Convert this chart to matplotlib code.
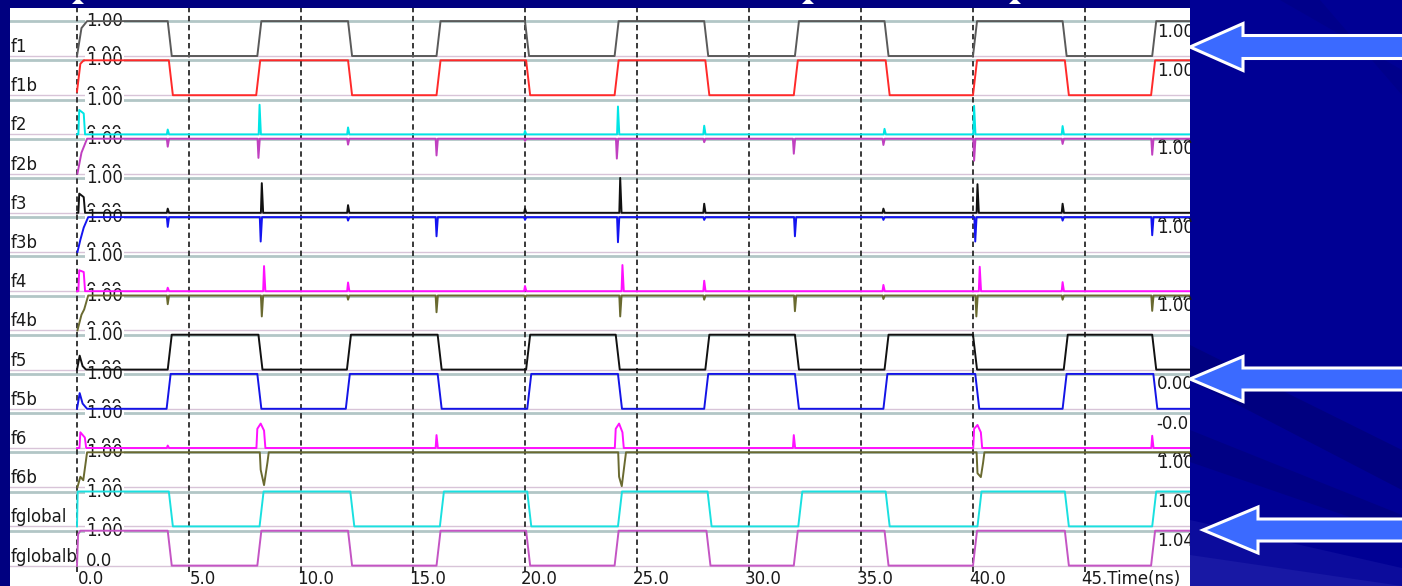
import numpy as np
import matplotlib.pyplot as plt
from matplotlib.patches import Polygon, Rectangle

plt.rcParams['font.family'] = ['DejaVu Sans']

W, H = 1402, 586
T_END = 50.0

names = ['f1', 'f1b', 'f2', 'f2b', 'f3', 'f3b', 'f4', 'f4b',
         'f5', 'f5b', 'f6', 'f6b', 'fglobal', 'fglobalb']
colors = ['#5a5a5a', '#ff2a2a', '#00e5e5', '#c040c0', '#111111', '#1414f0',
          '#ff10ff', '#6a6a30', '#111111', '#1414e6', '#ff10ff', '#6a6a30',
          '#1ae0e0', '#c455c4']
right_vals = ['1.00', '1.00', None, '1.00', None, '1.00', None, '1.00',
              None, '0.00', '-0.0', '1.00', '1.00', '1.04']
right_hidden = [3, 5, 7, 11]
time_ticks = [0, 5, 10, 15, 20, 25, 30, 35, 40, 45]
time_labels = ['0.0', '5.0', '10.0', '15.0', '20.0', '25.0', '30.0', '35.0',
               '40.0', '45.Time(ns)']

# clock type signals: start points, level after start, edge times (ns)
f1_start = [(0.0, 0.0), (0.2, 0.8), (0.45, 1.0)]
f1_edges = [4.05, 8.05, 12.1, 16.05, 20.0, 24.0, 28.0, 32.05, 36.05, 40.0, 44.0, 48.0]
f1b_start = [(0.0, 0.1), (0.15, 0.9), (0.3, 1.0)]
f1b_edges = [4.1, 8.0, 12.1, 16.05, 20.05, 24.0, 28.05, 32.0, 36.1, 40.0, 44.1, 47.95]
f5_start = [(0.0, 0.0), (0.12, 0.4), (0.25, 0.1), (0.4, 0.0)]
f5_edges = [4.05, 8.1, 12.05, 16.1, 20.05, 24.05, 28.05, 32.05, 36.05, 40.0, 44.05, 48.0]
f5b_start = [(0.0, 0.0), (0.12, 0.45), (0.25, 0.15), (0.45, 0.0)]
f5b_edges = [4.0, 8.05, 12.0, 16.1, 20.1, 24.15, 28.0, 32.05, 36.0, 40.1, 44.0, 48.05]
fg_start = [(0.0, 0.0), (0.03, 1.0)]
fg_edges = [4.1, 8.15, 12.2, 16.2, 20.1, 24.15, 28.15, 32.2, 36.1, 40.2, 44.1, 48.0]
fgb_start = [(0.0, 0.0), (0.05, 0.9), (0.15, 1.0)]
fgb_edges = [4.05, 8.05, 12.1, 16.05, 20.05, 24.0, 28.1, 32.0, 36.05, 40.0, 44.1, 47.95]

# glitch type signals: (time ns, height as lane fraction)
f2_spikes = [(0.1, 0.7), (0.3, 0.6), (4.05, 0.14), (8.15, 0.85), (12.1, 0.2),
             (20.0, 0.1), (24.15, 0.8), (28.0, 0.25), (36.05, 0.16),
             (40.05, 0.82), (44.0, 0.24)]
f2b_start = [(0.02, 0.0), (0.2, 0.6), (0.45, 1.0)]
f2b_spikes = [(4.05, -0.23), (8.1, -0.55), (12.1, -0.17), (16.05, -0.48),
              (20.0, -0.06), (24.1, -0.57), (28.0, -0.1), (32.0, -0.43),
              (36.0, -0.18), (40.05, -0.63), (44.0, -0.15), (48.0, -0.46)]
f3_spikes = [(0.1, 0.55), (0.3, 0.45), (4.05, 0.12), (8.25, 0.85), (12.1, 0.22),
             (20.0, 0.12), (24.25, 1.0), (28.0, 0.26), (36.0, 0.12),
             (40.2, 0.82), (44.0, 0.26)]
f3b_start = [(0.02, 0.0), (0.15, 0.35), (0.3, 0.7), (0.5, 1.0)]
f3b_spikes = [(4.05, -0.28), (8.2, -0.7), (12.1, -0.1), (16.05, -0.55),
              (20.0, -0.08), (24.15, -0.72), (28.0, -0.08), (32.05, -0.55),
              (36.0, -0.08), (40.1, -0.7), (44.0, -0.1), (48.0, -0.52)]
f4_spikes = [(0.1, 0.6), (0.3, 0.55), (4.05, 0.1), (8.35, 0.72), (12.1, 0.25),
             (20.0, 0.15), (24.35, 0.75), (28.0, 0.3), (36.0, 0.18),
             (40.3, 0.7), (44.0, 0.26)]
f4b_start = [(0.02, 0.0), (0.2, 0.45), (0.32, 0.6), (0.5, 1.0)]
f4b_spikes = [(4.05, -0.25), (8.25, -0.6), (12.1, -0.12), (16.05, -0.48),
              (20.0, -0.05), (24.25, -0.6), (28.0, -0.12), (32.05, -0.45),
              (36.0, -0.1), (40.15, -0.6), (44.0, -0.12), (48.0, -0.44)]
f6_spikes = [(0.15, 0.45), (0.35, 0.3), (4.05, 0.07), (8.05, 0.55), (8.2, 0.7),
             (8.35, 0.5), (16.05, 0.37), (24.05, 0.55), (24.2, 0.7), (24.35, 0.45),
             (32.0, 0.37), (40.05, 0.55), (40.2, 0.66), (40.35, 0.45), (48.0, 0.35)]
f6b_start = [(0.02, 0.0), (0.15, 0.3), (0.28, 0.2), (0.45, 1.0)]
f6b_spikes = [(8.2, -0.5), (8.35, -0.94), (8.5, -0.3), (24.2, -0.7), (24.32, -0.97),
              (24.45, -0.3), (40.2, -0.6), (40.35, -0.71), (40.45, -0.3)]


def clock(start, level, edges, ramp=0.18):
    pts = list(start)
    for e in edges:
        pts += [(e, level), (e + ramp, 1 - level)]
        level = 1 - level
    pts.append((T_END, level))
    return np.array(pts)


def spiky(start, base, spikes):
    pts = list(start)
    groups = []
    for t, h in spikes:
        if groups and t - groups[-1][-1][0] < 0.2:
            groups[-1].append((t, h))
        else:
            groups.append([(t, h)])
    for g in groups:
        pts.append((g[0][0] - 0.04, base))
        pts += [(t, base + h) for t, h in g]
        pts.append((g[-1][0] + 0.06, base))
    pts.append((T_END, base))
    return np.array(pts)


waves = [clock(f1_start, 1, f1_edges), clock(f1b_start, 1, f1b_edges),
         spiky([(0.0, 0.0)], 0, f2_spikes), spiky(f2b_start, 1, f2b_spikes),
         spiky([(0.0, 0.0)], 0, f3_spikes), spiky(f3b_start, 1, f3b_spikes),
         spiky([(0.0, 0.0)], 0, f4_spikes), spiky(f4b_start, 1, f4b_spikes),
         clock(f5_start, 0, f5_edges), clock(f5b_start, 0, f5b_edges),
         spiky([(0.0, 0.0)], 0, f6_spikes), spiky(f6b_start, 1, f6b_spikes),
         clock(fg_start, 1, fg_edges), clock(fgb_start, 1, fgb_edges)]

fig = plt.figure(figsize=(W / 100, H / 100), dpi=100, facecolor='#000080')

# slide background
bg = fig.add_axes([0, 0, 1, 1])
bg.set_xlim(0, W)
bg.set_ylim(H, 0)
bg.axis('off')
bg.add_patch(Rectangle((1190, 0), W - 1190, H, color='#000094', lw=0))
for poly, col in [([(1190, 345), (1402, 450), (1402, 490), (1190, 380)], '#000080'),
                  ([(1190, 430), (1402, 515), (1402, 535), (1190, 462)], '#000084'),
                  ([(1190, 520), (1402, 568), (1402, 586), (1190, 586)], '#0c0c9c'),
                  ([(1190, 555), (1402, 586), (1190, 586)], '#1818a4'),
                  ([(1280, 0), (1402, 70), (1402, 95), (1320, 0)], '#00008a')]:
    bg.add_patch(Polygon(poly, closed=True, color=col, lw=0))
for x in [78, 808, 1015]:
    bg.add_patch(Polygon([(x - 6, 4), (x + 6, 4), (x, -2)], closed=True,
                         color='white', lw=0))

# waveform panel
ax = fig.add_axes([10 / W, 0, 1180 / W, 578 / H])
ax.set_facecolor('white')
ax.set_xlim(-67 / 22.4, 1113 / 22.4)
ax.set_ylim(-(586 - 56) / 39.2, (56 - 8) / 39.2)
for s in ax.spines.values():
    s.set_visible(False)
ax.set_xticks([])
ax.set_yticks([])

LANE_H = 0.89
n = len(names)
for i in range(n):
    ax.axhline(-i, color='#d8c4d8', lw=1.0, zorder=1)
    ax.axhline(-i + LANE_H, color='#b2c6c6', lw=2.0, zorder=1)

for t in time_ticks:
    ax.plot([t, t], [-13.16, 1.3], color='#2a2a2a', lw=1.3,
            ls=(0, (3, 2)), zorder=2)

for i, (wv, c) in enumerate(zip(waves, colors)):
    ax.plot(wv[:, 0], -i + wv[:, 1] * LANE_H, color=c, lw=1.4, zorder=4)

txt = dict(fontsize=12, color='#1a1a1a')
for i, nm in enumerate(names):
    ax.text(-2.95, -i + 0.23, nm, ha='left', va='center', zorder=5, **txt)
    if i == n - 1:
        ax.text(0.4, -i + 0.12, '0.0', ha='left', va='center', zorder=2, **txt)
    else:
        low = ax.text(0.4, -i + 0.04, '0.00', ha='left', va='center',
                      zorder=2, **txt)
        low.set_clip_path(Rectangle((-5, -i + 0.12), 60, 2,
                                    transform=ax.transData))
    ax.text(0.4, -i + LANE_H, '1.00', ha='left', va='center', zorder=3,
            bbox=dict(facecolor='white', edgecolor='none', pad=0.5), **txt)
    if i in right_hidden:
        hid = ax.text(48.2, -i + LANE_H - 0.2, '0.00', ha='left', va='center',
                      zorder=2, clip_on=True, **txt)
        hid.set_clip_path(Rectangle((47, -i + LANE_H - 0.12), 5, 0.3,
                                    transform=ax.transData))
    if right_vals[i]:
        ax.text(48.2, -i + LANE_H - 0.27, right_vals[i], ha='left',
                va='center', zorder=5, clip_on=True, **txt)

for t, lab in zip(time_ticks, time_labels):
    shift = 0.18 if t >= 10 else -0.03
    ax.text(t - shift, -13.47, lab, ha='left', va='baseline', zorder=5,
            clip_on=True, **txt)

# arrows
top = fig.add_axes([0, 0, 1, 1], facecolor='none')
top.set_xlim(0, W)
top.set_ylim(H, 0)
top.axis('off')
for tip, yc, hx, hh, sh in [(1190, 47, 1243, 23.5, 11.5),
                            (1190, 379, 1243, 22.5, 11),
                            (1203, 530, 1258, 23, 11)]:
    pts = [(tip, yc), (hx, yc - hh), (hx, yc - sh), (W + 5, yc - sh),
           (W + 5, yc + sh), (hx, yc + sh), (hx, yc + hh)]
    top.add_patch(Polygon(pts, closed=True, facecolor='#3b6aff',
                          edgecolor='white', lw=2.2))

fig.savefig('out.png', dpi=100, facecolor=fig.get_facecolor())
